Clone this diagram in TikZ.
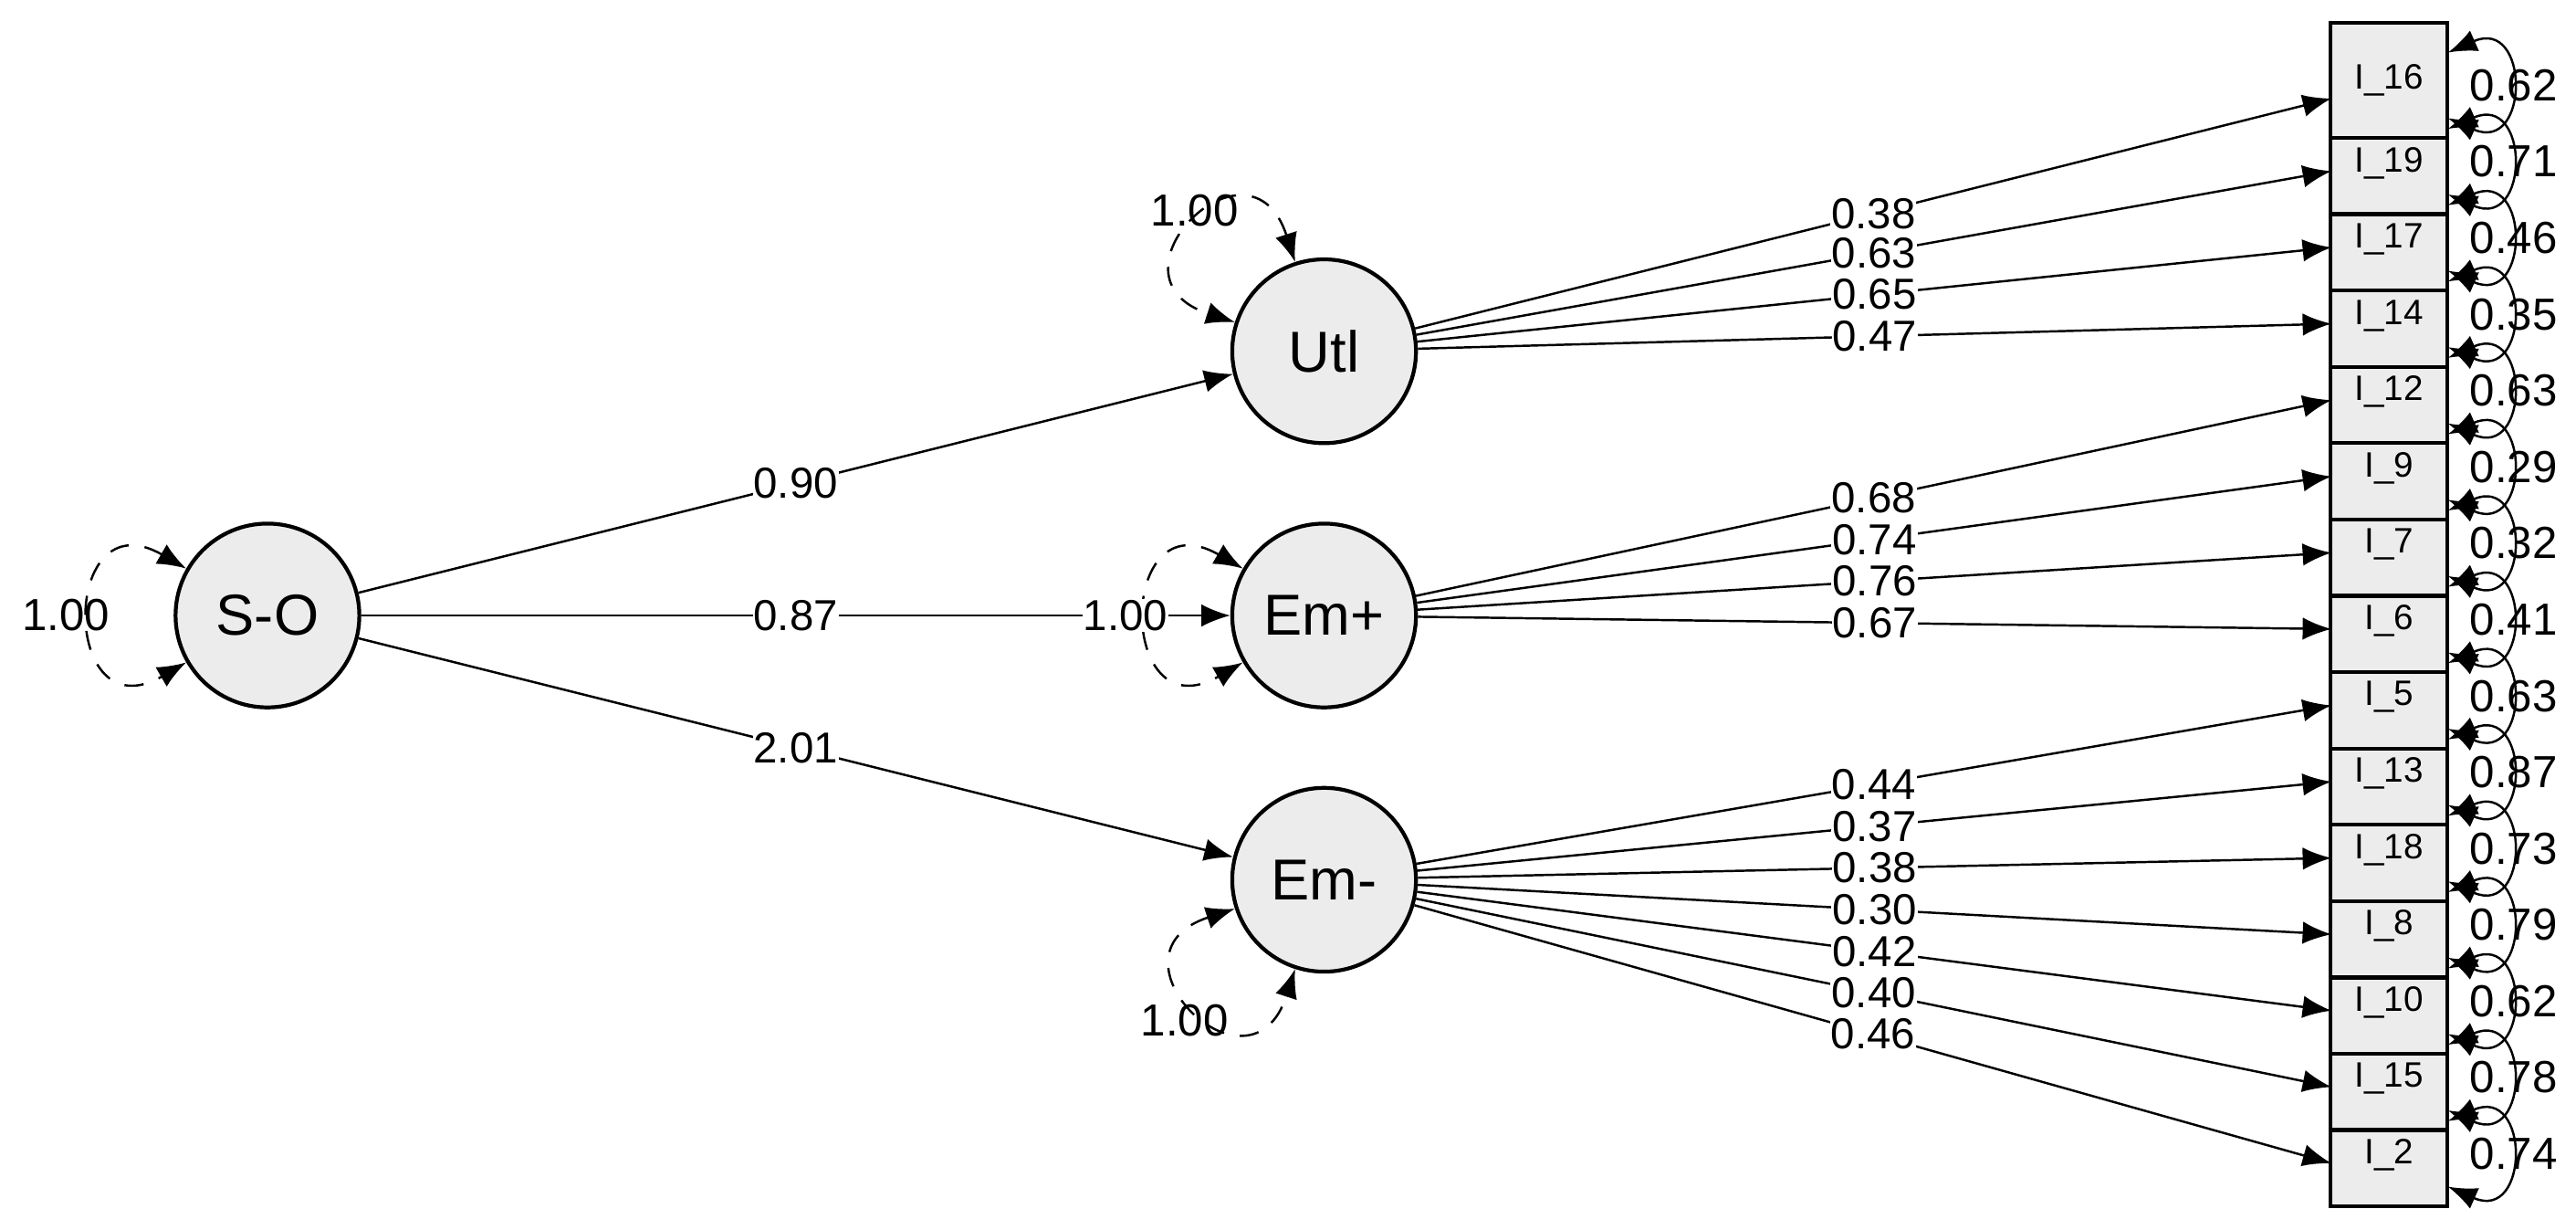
\documentclass[tikz,border=0pt]{standalone}
\usepackage{fontspec}
\setmainfont{Liberation Sans}
\usetikzlibrary{arrows.meta}
\begin{document}
\begin{tikzpicture}[x=0.01797cm,y=-0.01797cm,
  lat/.style={circle,draw,line width=1.2pt,fill=gray!15,minimum size=112*0.01797cm,inner sep=0pt,font=\fontsize{18}{20}\selectfont},
  obs/.style={rectangle,draw,line width=1.2pt,fill=gray!15,minimum width=71*0.01797cm,inner sep=0pt,font=\fontsize{11}{12}\selectfont},
  arr/.style={-{Latex[length=9pt,width=7pt]},line width=0.7pt},
  dbl/.style={{Latex[length=9pt,width=7pt]}-{Latex[length=9pt,width=7pt]},line width=0.7pt},
  var/.style={dbl,dashed,dash pattern=on 6pt off 5pt},
  lab/.style={fill=white,inner sep=0.3pt,font=\fontsize{13.5}{15}\selectfont},
  vlab/.style={inner sep=0.5pt,font=\fontsize{14}{16}\selectfont}]
\useasboundingbox (0,0) rectangle (1570,749);
\node[lat] (SO) at (163,375) {S-O};
\node[lat] (Utl) at (807,214) {Utl};
\node[lat] (Emp) at (807,375) {Em+};
\node[lat] (Emm) at (807,536) {Em-};
% latent variances
\draw[var] (SO.150) .. controls +(150:1.6cm) and +(210:1.6cm) .. (SO.210);
\node[vlab] (vso) at (40,375) {1.00};
\draw[var] (Emp.150) .. controls +(150:1.6cm) and +(210:1.6cm) .. (Emp.210);
\draw[var] (Utl.108) .. controls +(108:1.6cm) and +(162:1.6cm) .. (Utl.162);
\node[vlab] (vutl) at (728,128) {1.00};
\draw[var] (Emm.198) .. controls +(198:1.6cm) and +(252:1.6cm) .. (Emm.252);
\node[vlab] (vemm) at (722,622) {1.00};
% structural
\draw[arr] (SO) -- node[lab,pos=0.5] {0.90} (Utl);
\draw[arr] (SO) -- node[lab,pos=0.5] {0.87} (Emp);
\draw[arr] (SO) -- node[lab,pos=0.5] {2.01} (Emm);
\node[lab] (vemp) at (686,375) {1.00};
% boxes
\node[obs,minimum height=70*0.01797cm] (b1) at (1456,49) {I\_16};
\foreach \n/\t [count=\k] in {b2/19,b3/17,b4/14,b5/12,b6/9,b7/7,b8/6,b9/5,b10/13,b11/18,b12/8,b13/10,b14/15,b15/2}{
  \node[obs,minimum height=46.5*0.01797cm] (\n) at (1456,{84+46.5*(\k-0.5)}) {};
  \node[font=\fontsize{11}{12}\selectfont,inner sep=0pt] (t\n) at (1456,{84+46.5*(\k-0.5)-8}) {I\_\t};
}
% arrow targets
\coordinate (a1) at (1421,60);
\foreach \k in {2,...,15}{\coordinate (a\k) at (1421,{84+46.5*(\k-1.5)-3});}
% loadings
\foreach \k/\v in {1/0.38,2/0.63,3/0.65,4/0.47}{\draw[arr] (Utl) -- node[lab,pos=0.5] {\v} (a\k);}
\foreach \k/\v in {5/0.68,6/0.74,7/0.76,8/0.67}{\draw[arr] (Emp) -- node[lab,pos=0.5] {\v} (a\k);}
\foreach \k/\v in {9/0.44,10/0.37,11/0.38,12/0.30,13/0.42,14/0.40,15/0.46}{\draw[arr] (Emm) -- node[lab,pos=0.5] {\v} (a\k);}
% residual loops
\foreach \v [count=\k from 0] in {0.62,0.71,0.46,0.35,0.63,0.29,0.32,0.41,0.63,0.87,0.73,0.79,0.62,0.78,0.74}{
  \coordinate (rt\k) at (1492,{52+46.5*\k-20});
  \coordinate (rb\k) at (1492,{52+46.5*\k+20});
  \draw[dbl] (rt\k) .. controls +(50,-22) and +(50,22) .. (rb\k);
  \node[vlab] (r\k) at (1532,{52+46.5*\k}) {\v};
}
\end{tikzpicture}
\end{document}
